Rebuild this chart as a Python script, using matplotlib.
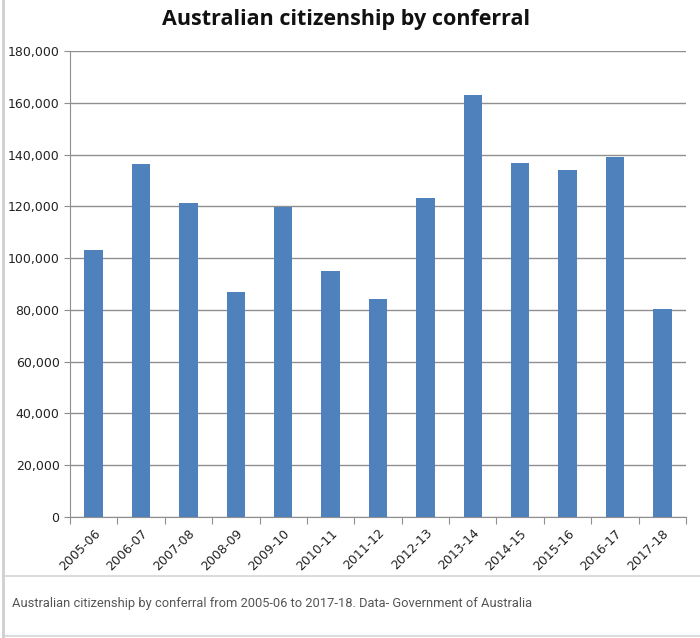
import numpy as np
import matplotlib
matplotlib.use('Agg')
import matplotlib.pyplot as plt
from matplotlib.ticker import FuncFormatter
from matplotlib.lines import Line2D

# data
years = ['2005-06', '2006-07', '2007-08', '2008-09', '2009-10', '2010-11', '2011-12',
         '2012-13', '2013-14', '2014-15', '2015-16', '2016-17', '2017-18']
conferrals = [103100, 136300, 121200, 86900, 119900, 95200, 84200,
              123300, 163100, 136600, 133900, 139200, 80500]

title = 'Australian citizenship by conferral'
caption = 'Australian citizenship by conferral from 2005-06 to 2017-18. Data- Government of Australia'

fig = plt.figure(figsize=(7, 6.38), dpi=100)
ax = fig.add_axes([70/700, 1-517/638, 616/700, 466/638])

x = np.arange(len(years))
ax.bar(x, conferrals, width=0.39, color='#4f81bd', zorder=3)

ax.set_xlim(-0.5, len(years) - 0.5)
ax.set_ylim(0, 180000)
ax.set_yticks(np.arange(0, 180001, 20000))
ax.yaxis.set_major_formatter(FuncFormatter(lambda v, p: '{:,.0f}'.format(v)))
ax.grid(axis='y', color='#8f8f8f', linewidth=1, zorder=0)

# ticks between categories, labels at the centres
ax.set_xticks(np.arange(-0.5, len(years), 1.0))
ax.set_xticklabels([])
ax.set_xticks(x, minor=True)
ax.set_xticklabels(years, minor=True, rotation=45, ha='right', rotation_mode='anchor',
                   fontsize=9, color='#222222')
ax.tick_params(axis='x', which='minor', length=0, pad=7)
ax.tick_params(axis='x', which='major', length=5, color='#8f8f8f', direction='out')
ax.tick_params(axis='y', length=4, color='#8f8f8f', labelsize=9, labelcolor='#222222')

for side in ['top', 'right']:
    ax.spines[side].set_visible(False)
ax.spines['left'].set_color('#8f8f8f')
ax.spines['bottom'].set_color('#8f8f8f')

fig.text(346/700, 1 - 20/638, title, ha='center', va='center', fontsize=15.5,
         fontweight='bold', family=['Open Sans', 'DejaVu Sans'], color='#111111')

# caption box under the chart
fig.add_artist(Line2D([3/700, 1], [1-576/638, 1-576/638], color='#d5d5d5', lw=1.2))
fig.add_artist(Line2D([3/700, 1], [1-636/638, 1-636/638], color='#d5d5d5', lw=1.2))
fig.add_artist(Line2D([2.5/700, 2.5/700], [0, 1], color='#cfcfcf', lw=2))
fig.text(12/700, 1 - 603/638, caption, ha='left', va='center', fontsize=9.3,
         family=['Roboto', 'DejaVu Sans'], color='#555555')

plt.savefig('out.png', dpi=100)
